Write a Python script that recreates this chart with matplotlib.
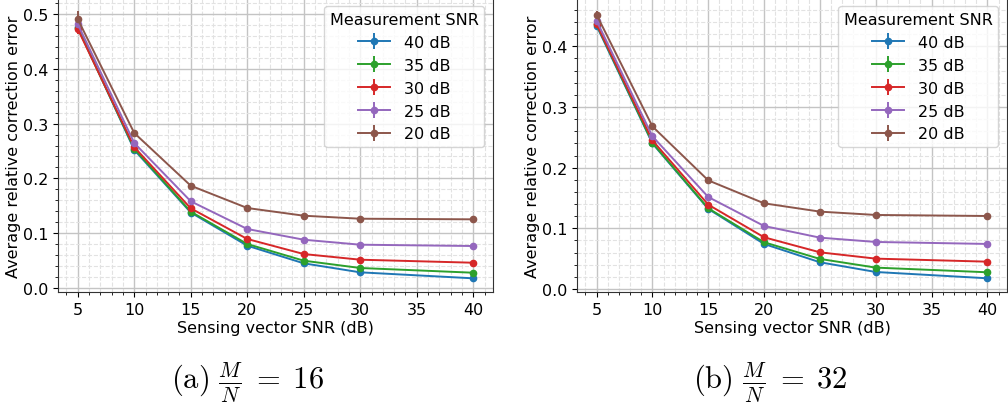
import matplotlib
matplotlib.use("Agg")
import matplotlib.pyplot as plt
from matplotlib.ticker import MultipleLocator

plt.rcParams['mathtext.fontset'] = 'cm'
plt.rcParams['font.family'] = ['DejaVu Sans']

sensing_snr = [5, 10, 15, 20, 25, 30, 40]
labels = ["40 dB", "35 dB", "30 dB", "25 dB", "20 dB"]
colors = ["#1f77b4", "#2ca02c", "#d62728", "#9467bd", "#8c564b"]

# M/N = 16
err16_40 = [0.476, 0.252, 0.138, 0.0776, 0.0455, 0.0291, 0.0182]
err16_35 = [0.474, 0.254, 0.1395, 0.0807, 0.0503, 0.0370, 0.0284]
err16_30 = [0.472, 0.257, 0.1456, 0.0898, 0.0624, 0.0521, 0.0466]
err16_25 = [0.481, 0.2645, 0.1584, 0.108, 0.0885, 0.0794, 0.077]
err16_20 = [0.490, 0.2827, 0.1868, 0.1462, 0.1322, 0.1267, 0.1256]
std16_40 = [0.008, 0.003, 0.002, 0.001, 0.001, 0.001, 0.001]
std16_35 = [0.008, 0.003, 0.002, 0.001, 0.001, 0.001, 0.001]
std16_30 = [0.009, 0.003, 0.002, 0.001, 0.001, 0.001, 0.001]
std16_25 = [0.010, 0.003, 0.002, 0.001, 0.001, 0.001, 0.001]
std16_20 = [0.015, 0.004, 0.002, 0.001, 0.001, 0.001, 0.001]

# M/N = 32
err32_40 = [0.434, 0.240, 0.132, 0.0742, 0.044, 0.028, 0.0176]
err32_35 = [0.436, 0.241, 0.133, 0.077, 0.0495, 0.0352, 0.0275]
err32_30 = [0.4368, 0.245, 0.139, 0.0852, 0.0604, 0.050, 0.045]
err32_25 = [0.4423, 0.2517, 0.1516, 0.1038, 0.0846, 0.0775, 0.0742]
err32_20 = [0.4522, 0.268, 0.179, 0.1412, 0.1275, 0.122, 0.1203]
std32_40 = [0.004, 0.002, 0.001, 0.001, 0.001, 0.001, 0.001]
std32_35 = [0.004, 0.002, 0.001, 0.001, 0.001, 0.001, 0.001]
std32_30 = [0.004, 0.002, 0.001, 0.001, 0.001, 0.001, 0.001]
std32_25 = [0.005, 0.002, 0.001, 0.001, 0.001, 0.001, 0.001]
std32_20 = [0.006, 0.002, 0.001, 0.001, 0.001, 0.001, 0.001]

panels = [
    ([err16_40, err16_35, err16_30, err16_25, err16_20],
     [std16_40, std16_35, std16_30, std16_25, std16_20],
     (-0.0067, 0.5267), [0.0, 0.1, 0.2, 0.3, 0.4, 0.5],
     r"$\mathrm{(a)}\ \frac{M}{N}\;=\;16$"),
    ([err32_40, err32_35, err32_30, err32_25, err32_20],
     [std32_40, std32_35, std32_30, std32_25, std32_20],
     (-0.005, 0.478), [0.0, 0.1, 0.2, 0.3, 0.4],
     r"$\mathrm{(b)}\ \frac{M}{N}\;=\;32$"),
]

fig = plt.figure(figsize=(10.08, 4.10), dpi=100)
positions = [[58/1008, 117/410, 435/1008, 293/410],
             [577/1008, 117/410, 430/1008, 293/410]]
caption_x = [248/1008, 770/1008]

FS = 11.5
for (series, stds, ylim, yticks, caption), pos, cx in zip(panels, positions, caption_x):
    ax = fig.add_axes(pos)
    for vals, sd, lab, c in zip(series, stds, labels, colors):
        ax.errorbar(sensing_snr, vals, yerr=sd, color=c, label=lab,
                    marker='o', markersize=4.5, linewidth=1.4, elinewidth=1.4)
    ax.set_xlim(3.25, 41.75)
    ax.set_ylim(*ylim)
    ax.set_xticks([5, 10, 15, 20, 25, 30, 35, 40])
    ax.set_yticks(yticks)
    ax.xaxis.set_minor_locator(MultipleLocator(1))
    ax.yaxis.set_minor_locator(MultipleLocator(0.02))
    ax.grid(which='major', color='#c4c4c4', linestyle='-', linewidth=1.0)
    ax.grid(which='minor', color='#e2e2e2', linestyle='--', linewidth=0.8)
    ax.set_axisbelow(True)
    ax.spines['top'].set_visible(False)
    for s in ['left', 'bottom', 'right']:
        ax.spines[s].set_color('#333333')
    ax.tick_params(labelsize=FS)
    ax.set_xlabel("Sensing vector SNR (dB)", fontsize=FS, labelpad=2)
    ax.set_ylabel("Average relative correction error", fontsize=FS, labelpad=1)
    ax.legend(title="Measurement SNR", loc='upper right', fontsize=FS,
              title_fontsize=FS, framealpha=0.8, borderaxespad=0.4,
              handletextpad=0.9, borderpad=0.35, bbox_to_anchor=(0.995, 0.998))
    fig.text(cx, 1 - 383/410, caption, ha='center', va='center', fontsize=22)

fig.savefig("out.png", dpi=100)
